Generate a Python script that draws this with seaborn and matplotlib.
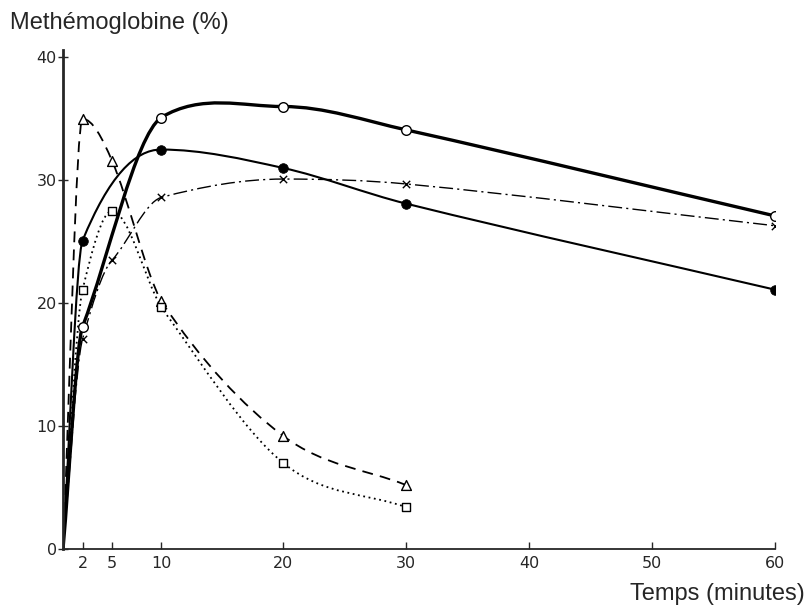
import numpy as np
import pandas as pd
import matplotlib
matplotlib.use('Agg')
import matplotlib.pyplot as plt
import seaborn as sns
from matplotlib.path import Path
from matplotlib.patches import PathPatch

# Values (time in minutes, methaemoglobin in %)
time_open = [0, 2, 10, 20, 30, 60]
methb_open = [0, 18.1, 35.1, 36.0, 34.1, 27.1]

time_filled = [0, 2, 10, 20, 30, 60]
methb_filled = [0, 25.1, 32.5, 31.0, 28.1, 21.1]

time_cross = [0, 2, 5, 10, 20, 30, 60]
methb_cross = [0, 17.1, 23.5, 28.6, 30.1, 29.7, 26.3]

time_tri = [0, 2, 5, 10, 20, 30]
methb_tri = [0, 35.0, 31.6, 20.2, 9.2, 5.2]

time_sq = [0, 2, 5, 10, 20, 30]
methb_sq = [0, 21.1, 27.5, 19.7, 7.0, 3.4]

x_ticks = [0, 2, 5, 10, 20, 30, 40, 50, 60]
x_ticklabels = ['', '2', '5', '10', '20', '30', '40', '50', '60']
y_ticks = [0, 10, 20, 30, 40]

# the hand-drawn time axis squeezes the first 10 minutes a bit
axis_minutes = [0, 10, 20, 60]
axis_length = [0, 98, 220.3, 712.3]


def fwd(v):
    return np.interp(v, axis_minutes, axis_length)


def inv(v):
    return np.interp(v, axis_length, axis_minutes)


def curve_slopes(x, y, rise_tension=0.6):
    # centred slopes, flat where the curve turns; rising parts drawn a bit tighter
    x = np.asarray(x, float)
    y = np.asarray(y, float)
    d = np.diff(y) / np.diff(x)
    m = np.zeros_like(y)
    m[0], m[-1] = d[0], d[-1]
    for i in range(1, len(x) - 1):
        if d[i - 1] * d[i] > 0:
            m[i] = (y[i + 1] - y[i - 1]) / (x[i + 1] - x[i - 1])
            if m[i] > 0:
                m[i] *= rise_tension
    return m


def smooth_curve(ax, x, y, **kw):
    m = curve_slopes(x, y)
    verts = [(x[0], y[0])]
    codes = [Path.MOVETO]
    for i in range(len(x) - 1):
        h = x[i + 1] - x[i]
        verts += [(x[i] + h / 3, y[i] + m[i] * h / 3),
                  (x[i + 1] - h / 3, y[i + 1] - m[i + 1] * h / 3),
                  (x[i + 1], y[i + 1])]
        codes += [Path.CURVE4] * 3
    ax.add_patch(PathPatch(Path(verts, codes), fill=False, transform=ax.transData, **kw))


sns.set_style('ticks')
plt.rcParams['font.family'] = ['DejaVu Sans']

fig = plt.figure(figsize=(8.08, 6.10), dpi=100)
ax = fig.add_axes([63 / 808, 1 - 549 / 610, 712 / 808, 499 / 610])
ax.set_xscale('function', functions=(fwd, inv))

series = [
    (time_open, methb_open, dict(lw=2.4, linestyle='-'), dict(marker='o', s=48, facecolor='white', edgecolor='black', linewidth=1.0)),
    (time_filled, methb_filled, dict(lw=1.5, linestyle='-'), dict(marker='o', s=48, color='black', edgecolor='black')),
    (time_cross, methb_cross, dict(lw=1.0, linestyle=(0, (10, 3, 1.5, 3))), dict(marker='x', s=28, color='black', linewidth=1.0)),
    (time_tri, methb_tri, dict(lw=1.3, linestyle=(0, (6, 4))), dict(marker='^', s=50, facecolor='white', edgecolor='black', linewidth=1.0)),
    (time_sq, methb_sq, dict(lw=1.3, linestyle=(0, (1, 2))), dict(marker='s', s=40, facecolor='white', edgecolor='black', linewidth=1.0)),
]

for t, v, line_kw, mark_kw in series:
    smooth_curve(ax, t, v, color='black', zorder=2, **line_kw)
    df = pd.DataFrame({'Temps': t[1:], 'MetHb': v[1:]})
    sns.scatterplot(data=df, x='Temps', y='MetHb', ax=ax, zorder=3, legend=False, **mark_kw)

ax.set_xlim(0, 60)
ax.set_ylim(0, 40.6)
ax.set_xticks(x_ticks)
ax.set_xticklabels(x_ticklabels)
ax.set_yticks(y_ticks)
ax.set_xlabel('')
ax.set_ylabel('')

sns.despine(ax=ax)
ax.spines['left'].set_linewidth(2.0)
ax.spines['bottom'].set_linewidth(1.3)
ax.tick_params(axis='x', direction='in', length=5, width=1.0, pad=5, labelsize=11.5)
ax.tick_params(axis='y', direction='inout', length=7, width=1.0, pad=1, labelsize=11.5)

fig.text(10 / 808, 1 - 29 / 610, 'Methémoglobine (%)', family='Liberation Sans',
         fontsize=17, ha='left', va='baseline')
fig.text(805 / 808, 1 - 600 / 610, 'Temps (minutes)', family='Liberation Sans',
         fontsize=17, ha='right', va='baseline')

fig.savefig('out.png', dpi=100)
